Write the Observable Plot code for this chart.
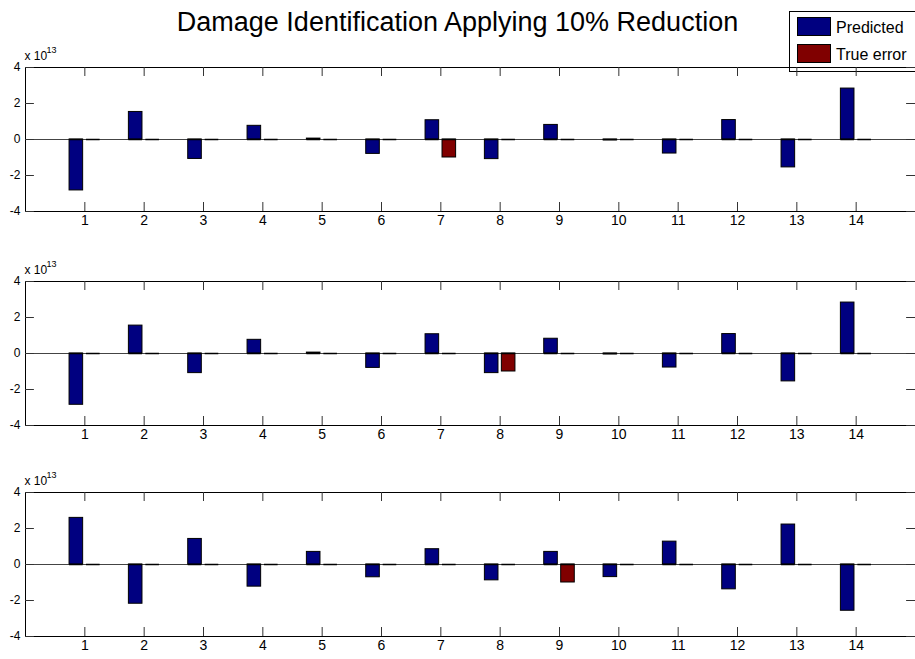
<!DOCTYPE html>
<html>
<head>
<meta charset="utf-8">
<script src="https://cdn.jsdelivr.net/npm/d3@7"></script>
<script src="https://cdn.jsdelivr.net/npm/@observablehq/plot@0.6"></script>
<style>
  html, body { margin: 0; padding: 0; background: #fff; }
  #wrap { position: relative; width: 915px; height: 659px; overflow: hidden; font-family: "Liberation Sans", Arial, sans-serif; }
  #title { position: absolute; left: 0; top: 9px; width: 915px; text-align: center; font-size: 27px; line-height: 27px; color: #000; }
  .panel { position: absolute; left: 0; }
  #legend { position: absolute; left: 789px; top: 11px; width: 140px; height: 59px; border: 1px solid #000; background: #fff; }
  .sw { position: absolute; left: 7px; width: 34px; height: 19px; border: 1px solid #000; box-sizing: border-box; }
  .lt { position: absolute; left: 46px; font-size: 16px; line-height: 16px; color: #000; }
</style>
</head>
<body>
<div id="wrap">
  <div id="title"></div>
  <div id="legend"></div>
</div>
<script>
// ---- data (values in units of 10^13) ----
const titleText = "Damage Identification Applying 10% Reduction";
const categories = [1, 2, 3, 4, 5, 6, 7, 8, 9, 10, 11, 12, 13, 14];
const yTicks = [-4, -2, 0, 2, 4];
const exponent = "13";
const seriesNames = ["Predicted", "True error"];
const seriesColors = ["#000080", "#800000"];

const predictedTop    = [-2.83, 1.53, -1.08, 0.76, 0.05, -0.80, 1.07, -1.09, 0.81, -0.05, -0.78, 1.08, -1.55, 2.83];
const trueErrorTop    = [0, 0, 0, 0, 0, 0, -1, 0, 0, 0, 0, 0, 0, 0];
const predictedMiddle = [-2.85, 1.55, -1.09, 0.76, 0.05, -0.80, 1.07, -1.09, 0.82, -0.05, -0.78, 1.08, -1.55, 2.83];
const trueErrorMiddle = [0, 0, 0, 0, 0, 0, 0, -1, 0, 0, 0, 0, 0, 0];
const predictedBottom = [2.59, -2.18, 1.42, -1.23, 0.70, -0.71, 0.85, -0.88, 0.70, -0.70, 1.27, -1.38, 2.22, -2.57];
const trueErrorBottom = [0, 0, 0, 0, 0, 0, 0, 0, -1, 0, 0, 0, 0, 0];

// ---- layout ----
const wrap = document.getElementById("wrap");
document.getElementById("title").textContent = titleText;

const legend = document.getElementById("legend");
seriesNames.forEach((name, i) => {
  const sw = document.createElement("div");
  sw.className = "sw";
  sw.style.top = (5 + i * 27) + "px";
  sw.style.background = seriesColors[i];
  legend.appendChild(sw);
  const t = document.createElement("div");
  t.className = "lt";
  t.style.top = (8 + i * 27) + "px";
  t.textContent = name;
  legend.appendChild(t);
});

const groupOffset = 0.143, halfWidth = 0.1145;
const xMin = 0, xMax = 15, yMin = -4, yMax = 4;

function panel(pred, trueErr, plotTop) {
  const rows = [];
  categories.forEach((c, i) => {
    rows.push({cat: c, series: seriesNames[0], off: -groupOffset, value: pred[i]});
    rows.push({cat: c, series: seriesNames[1], off: groupOffset, value: trueErr[i]});
  });
  const marginTop = 26;
  const chart = Plot.plot({
    width: 915,
    height: 194,
    marginLeft: 25,
    marginRight: 0,
    marginTop,
    marginBottom: 24,
    style: {fontFamily: "'Liberation Sans', Arial, sans-serif", fontSize: "12px", background: "transparent", color: "#000", overflow: "visible"},
    x: {domain: [xMin, xMax], axis: null},
    y: {domain: [yMin, yMax], axis: null},
    color: {domain: seriesNames, range: seriesColors},
    marks: [
      Plot.ruleY([0], {stroke: "#444", strokeWidth: 1}),
      Plot.rectY(rows, {
        x1: d => d.cat + d.off - halfWidth,
        x2: d => d.cat + d.off + halfWidth,
        y1: 0, y2: "value",
        fill: "series", stroke: "#000", strokeWidth: 1
      }),
      Plot.ruleY(rows, {
        y: 0,
        x1: d => d.cat + d.off - halfWidth,
        x2: d => d.cat + d.off + halfWidth,
        stroke: "#000", strokeWidth: 1.5
      }),
      // frame: top, bottom, left
      Plot.ruleY([yMin, yMax], {stroke: "#000", strokeWidth: 1}),
      Plot.ruleX([xMin], {y1: yMin, y2: yMax, stroke: "#000", strokeWidth: 1}),
      // inward ticks
      Plot.ruleX(categories, {y1: yMax, y2: yMax - 0.5, stroke: "#333"}),
      Plot.ruleX(categories, {y1: yMin, y2: yMin + 0.5, stroke: "#333"}),
      Plot.ruleY(yTicks, {x1: xMin, x2: xMin + 0.15, stroke: "#333"}),
      Plot.ruleY(yTicks, {x1: xMax - 0.15, x2: xMax, stroke: "#333"}),
      Plot.axisX(categories, {label: null, tickSize: 0, tickPadding: 4, fontSize: 14, fontFamily: "'Liberation Sans Narrow', 'Arial Narrow', 'Liberation Sans', Arial, sans-serif"}),
      Plot.axisY(yTicks, {label: null, tickSize: 0, tickPadding: 5, fontSize: 12, tickFormat: d => String(d)}),
      Plot.text(["x 10"], {text: d => d, frameAnchor: "top-left", dx: -1, dy: -8, textAnchor: "start", lineAnchor: "bottom", fontSize: 12}),
      Plot.text([exponent], {text: d => d, frameAnchor: "top-left", dx: 21, dy: -15, textAnchor: "start", lineAnchor: "bottom", fontSize: 9})
    ]
  });
  chart.classList.add("panel");
  chart.style.top = (plotTop - marginTop) + "px";
  wrap.appendChild(chart);
}

panel(predictedTop, trueErrorTop, 67);
panel(predictedMiddle, trueErrorMiddle, 281);
panel(predictedBottom, trueErrorBottom, 492);
</script>
</body>
</html>
